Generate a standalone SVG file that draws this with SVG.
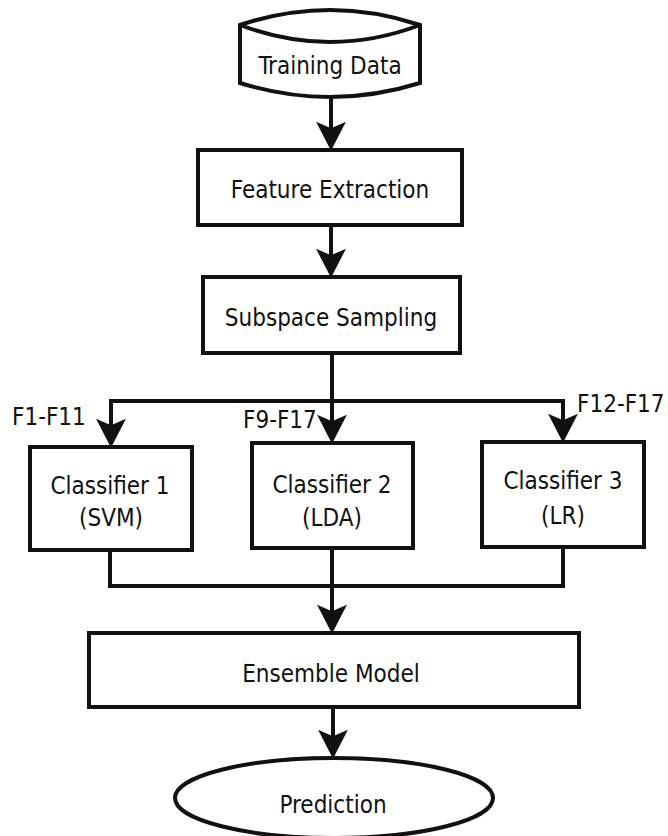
<svg xmlns="http://www.w3.org/2000/svg" width="668" height="836" viewBox="0 0 668 836">
<style>
.shape{fill:#fff;stroke:#111;stroke-width:4}
.conn{fill:none;stroke:#111;stroke-width:4}
.t{font-family:"DejaVu Sans Condensed","DejaVu Sans","Liberation Sans",sans-serif;font-stretch:condensed;font-size:24px;fill:#111}
.c{text-anchor:middle}
</style>
<defs>
<marker id="arr" markerUnits="userSpaceOnUse" markerWidth="30" markerHeight="32" viewBox="0 -15 27 30" refX="17" refY="0" orient="auto">
<path d="M0,-14 L27,0 L0,14 L6,0 Z" fill="#111"/>
</marker>
</defs>
<rect width="668" height="836" fill="#fff"/>
<g id="connectors">
<path class="conn" d="M331,97 V140" marker-end="url(#arr)"/>
<path class="conn" d="M331,225 V267" marker-end="url(#arr)"/>
<path class="conn" d="M332,353 V433" marker-end="url(#arr)"/>
<path class="conn" d="M332,401 H111 V437" marker-end="url(#arr)"/>
<path class="conn" d="M332,401 H563 V432" marker-end="url(#arr)"/>
<path class="conn" d="M110,550 V586 H563 V547"/>
<path class="conn" d="M332,548 V623" marker-end="url(#arr)"/>
<path class="conn" d="M333,707 V748" marker-end="url(#arr)"/>
<text class="t" x="12" y="425">F1-F11</text>
<text class="t" x="243" y="428">F9-F17</text>
<text class="t" x="577" y="412">F12-F17</text>
</g>
<g id="training-data">
<path class="shape" d="M240,25 Q330,-5 420,25 V83 Q330,111 240,83 Z"/>
<path class="shape" fill="none" d="M240,25 Q330,59 420,25"/>
<text class="t c" x="330" y="74">Training Data</text>
</g>
<g id="feature-extraction">
<rect class="shape" x="198" y="150" width="264" height="75"/>
<text class="t c" x="330" y="198">Feature Extraction</text>
</g>
<g id="subspace-sampling">
<rect class="shape" x="203" y="277" width="257" height="76"/>
<text class="t c" x="331" y="326">Subspace Sampling</text>
</g>
<g id="classifier-1">
<rect class="shape" x="30" y="447" width="162" height="103"/>
<text class="t c" x="110" y="494">Classifier 1</text>
<text class="t c" x="111" y="526">(SVM)</text>
</g>
<g id="classifier-2">
<rect class="shape" x="252" y="443" width="161" height="105"/>
<text class="t c" x="332" y="493">Classifier 2</text>
<text class="t c" x="332" y="526">(LDA)</text>
</g>
<g id="classifier-3">
<rect class="shape" x="482" y="442" width="162" height="105"/>
<text class="t c" x="563" y="489">Classifier 3</text>
<text class="t c" x="563" y="524">(LR)</text>
</g>
<g id="ensemble-model">
<rect class="shape" x="89" y="633" width="490" height="74"/>
<text class="t c" x="331" y="682">Ensemble Model</text>
</g>
<g id="prediction">
<ellipse class="shape" cx="334" cy="798" rx="159" ry="40"/>
<text class="t c" x="333" y="813">Prediction</text>
</g>
</svg>
